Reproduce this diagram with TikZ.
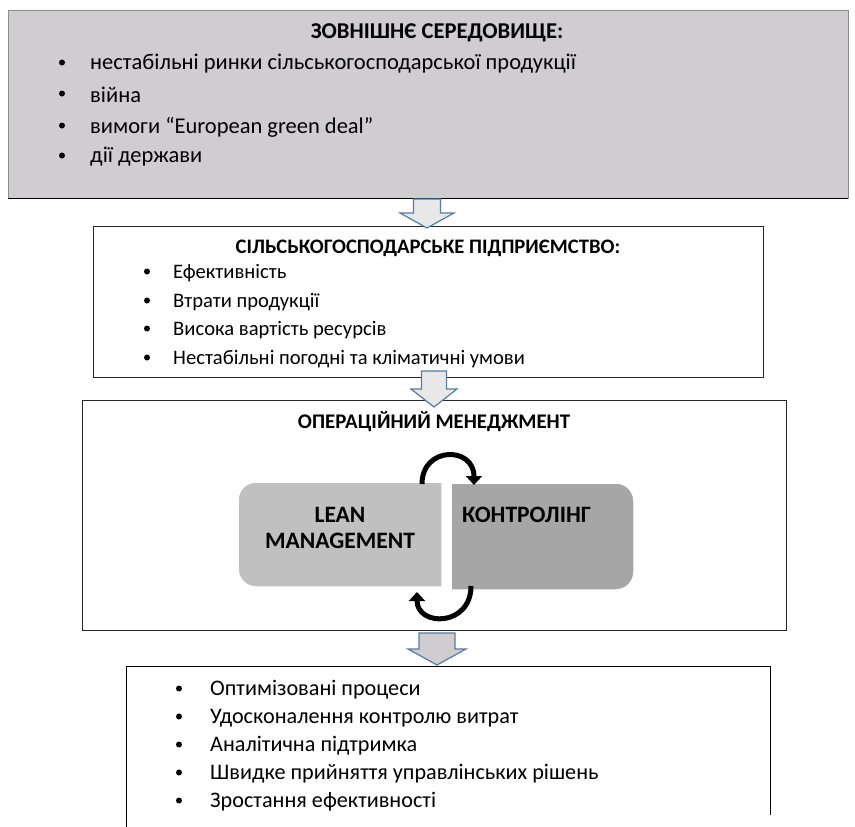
\documentclass[tikz,border=0pt]{standalone}
\usepackage{fontspec}
\setmainfont{Carlito}
\usetikzlibrary{positioning,arrows.meta,calc}
\definecolor{envgray}{RGB}{207,205,207}
\definecolor{leangray}{RGB}{192,192,192}
\definecolor{ctrlgray}{RGB}{166,166,166}
\definecolor{arrowblue}{RGB}{84,124,166}
\definecolor{arrowfill}{RGB}{232,232,232}
\tikzset{
  frame/.style={draw=black!85, line width=0.8pt, inner sep=0pt},
  ttl/.style={font=\bfseries\fontsize{22.6}{26}\selectfont, inner sep=0pt},
  item/.style={anchor=west, inner sep=0pt, font=\fontsize{22.5}{26}\selectfont},
  dot/.style={circle, fill=black, inner sep=0pt, minimum size=6pt},
  blk/.style={draw=arrowblue, line width=1.2pt, line join=miter},
  cyc/.style={line width=5pt, -{Triangle[length=9pt,width=16pt]}},
  part/.style={draw=white, line width=1.5pt},
}
% block arrow: centre x, top, neck, tip, half shaft, half head, fill
\newcommand{\blkarrow}[7]{%
  \draw[blk, fill=#7] ({#1-#5},#2) -- ({#1+#5},#2) -- ({#1+#5},#3) -- ({#1+#6},#3)
    -- (#1,#4) -- ({#1-#6},#3) -- ({#1-#5},#3) -- cycle;}

\begin{document}
\begin{tikzpicture}[x=1pt, y=-1pt]
  \useasboundingbox (0,0) rectangle (855,827);

  % outer environment
  \node[frame, draw=black!45, fill=envgray, minimum width=840pt, minimum height=188pt] (env) at (428,104) {};
  \draw[line width=1pt] (env.south west) -- (env.south east);
  \node[ttl] (envttl) at (437,33) {ЗОВНІШНЄ СЕРЕДОВИЩЕ:};
  \foreach \y/\t [count=\i] in {64/нестабільні ринки сільськогосподарської продукції,
      95/війна, 127/вимоги “European green deal”, 157/дії держави} {
    \node[dot] (envdot\i) at (62,\y-1.5) {};
    \node[item] (envit\i) at (90,\y) {\t};
  }

  % enterprise
  \node[frame, minimum width=670pt, minimum height=151pt] (farm) at (428,301.5) {};
  \node[ttl, font=\bfseries\fontsize{20.6}{24}\selectfont] (farmttl) at (428,248) {СІЛЬСЬКОГОСПОДАРСЬКЕ ПІДПРИЄМСТВО:};
  \foreach \y/\t [count=\i] in {273/Ефективність, 302/Втрати продукції,
      330/Висока вартість ресурсів, 359/Нестабільні погодні та кліматичні умови} {
    \node[dot] (farmdot\i) at (147,\y-1.5) {};
    \node[item, font=\fontsize{20.6}{24}\selectfont] (farmit\i) at (173,\y) {\t};
  }

  % operations management
  \node[frame, minimum width=704pt, minimum height=230pt] (ops) at (434,515) {};
  \node[ttl, font=\bfseries\fontsize{20.8}{24}\selectfont] (opsttl) at (434,422) {ОПЕРАЦІЙНИЙ МЕНЕДЖМЕНТ};
  \path[part, fill=leangray] (442,482) [rounded corners=18pt] -- (238,482) -- (238,587) [sharp corners] -- (442,587) -- cycle;
  \path[part, fill=ctrlgray] (451,483) [rounded corners=18pt] -- (634,483) -- (634,590) [sharp corners] -- (451,590) -- cycle;
  \node[ttl, font=\bfseries\fontsize{23.5}{26.5}\selectfont, align=center] (lean) at (340,528) {LEAN\\MANAGEMENT};
  \node[ttl, font=\bfseries\fontsize{23.5}{26.5}\selectfont, anchor=west] (ctrl) at (462,515) {КОНТРОЛІНГ};
  \coordinate (leantop) at (422,484);
  \coordinate (ctrltop) at (474,485);
  \coordinate (ctrlbot) at (471,586);
  \coordinate (leanbot) at (417,592);
  \draw[cyc] (leantop) .. controls (422,446) and (474,446) .. (ctrltop);
  \draw[cyc] (ctrlbot) .. controls (471,627) and (417,627) .. (leanbot);

  % results
  \node[minimum width=643pt, minimum height=170pt, inner sep=0pt] (res) at (448.5,752) {};
  \draw[line width=0.8pt] (res.south west) -- (res.north west) -- (res.north east) -- ($(res.north east)+(0,148)$);
  \foreach \y/\t [count=\i] in {690/Оптимізовані процеси, 718/Удосконалення контролю витрат,
      746/Аналітична підтримка, 774/Швидке прийняття управлінських рішень, 802/Зростання ефективності} {
    \node[dot] (resdot\i) at (179,\y-1.5) {};
    \node[item, font=\fontsize{22.2}{26}\selectfont] (resit\i) at (210,\y) {\t};
  }

  % block arrows between the levels
  \blkarrow{427}{199}{213}{228}{13.5}{27}{arrowfill}
  \blkarrow{434}{371}{389}{407}{12.5}{23}{arrowfill}
  \blkarrow{437}{633}{649}{665}{18}{29}{envgray}
\end{tikzpicture}
\end{document}
